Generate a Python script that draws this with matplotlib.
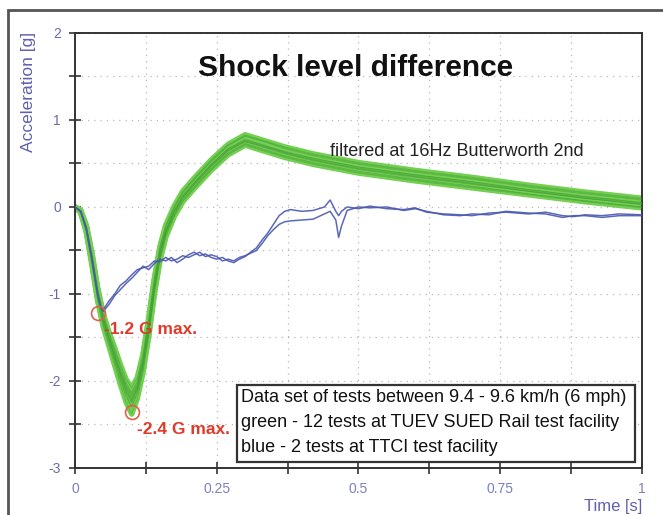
import numpy as np
import matplotlib
matplotlib.use("Agg")
import matplotlib.pyplot as plt
from matplotlib.patches import Rectangle

plt.rcParams['font.family'] = ['Liberation Sans', 'DejaVu Sans']
plt.rcParams['axes.unicode_minus'] = False

# green: 12 tests at TUEV SUED (time [s] / acceleration [g])
t_green = [0, 0.01, 0.02, 0.03, 0.04, 0.05, 0.06, 0.07, 0.08, 0.09, 0.10, 0.11,
           0.12, 0.13, 0.14, 0.15, 0.16, 0.175, 0.19, 0.21, 0.24, 0.27, 0.30,
           0.33, 0.37, 0.42, 0.50, 0.60, 0.70, 0.80, 0.90, 1.00]
g01 = [0, -0.05, -0.25, -0.60, -1.00, -1.30, -1.52, -1.72, -1.92, -2.10, -2.22, -2.08, -1.80, -1.40, -0.92, -0.54, -0.29, -0.06, 0.11, 0.26, 0.47, 0.65, 0.76, 0.70, 0.62, 0.54, 0.44, 0.35, 0.27, 0.18, 0.10, 0.03]
g02 = [0, -0.04, -0.22, -0.55, -0.95, -1.25, -1.46, -1.64, -1.84, -2.02, -2.13, -2.00, -1.71, -1.30, -0.84, -0.47, -0.23, 0.00, 0.17, 0.32, 0.53, 0.71, 0.81, 0.76, 0.68, 0.60, 0.50, 0.41, 0.33, 0.24, 0.16, 0.09]
g03 = [0, -0.06, -0.28, -0.65, -1.05, -1.35, -1.57, -1.78, -1.99, -2.18, -2.30, -2.14, -1.86, -1.46, -0.98, -0.59, -0.33, -0.10, 0.07, 0.22, 0.43, 0.61, 0.72, 0.66, 0.58, 0.50, 0.40, 0.31, 0.23, 0.15, 0.07, 0.00]
g04 = [0, -0.05, -0.24, -0.58, -0.98, -1.28, -1.49, -1.69, -1.89, -2.07, -2.19, -2.05, -1.76, -1.36, -0.88, -0.51, -0.27, -0.04, 0.13, 0.28, 0.49, 0.67, 0.77, 0.72, 0.63, 0.56, 0.46, 0.37, 0.29, 0.20, 0.12, 0.05]
g05 = [0, -0.05, -0.26, -0.62, -1.02, -1.32, -1.53, -1.74, -1.95, -2.13, -2.25, -2.10, -1.82, -1.42, -0.94, -0.55, -0.30, -0.07, 0.10, 0.25, 0.46, 0.64, 0.75, 0.69, 0.61, 0.53, 0.43, 0.34, 0.26, 0.18, 0.10, 0.03]
g06 = [0, -0.04, -0.21, -0.53, -0.93, -1.23, -1.44, -1.62, -1.81, -1.98, -2.08, -1.96, -1.69, -1.28, -0.82, -0.45, -0.21, 0.01, 0.18, 0.33, 0.54, 0.72, 0.83, 0.77, 0.69, 0.61, 0.51, 0.42, 0.34, 0.25, 0.17, 0.10]
g07 = [0, -0.06, -0.29, -0.67, -1.08, -1.38, -1.60, -1.82, -2.04, -2.24, -2.38, -2.20, -1.90, -1.49, -1.00, -0.61, -0.35, -0.11, 0.06, 0.21, 0.42, 0.60, 0.71, 0.65, 0.57, 0.49, 0.39, 0.30, 0.22, 0.14, 0.06, -0.01]
g08 = [0, -0.05, -0.25, -0.61, -1.01, -1.31, -1.51, -1.71, -1.91, -2.09, -2.21, -2.07, -1.79, -1.39, -0.91, -0.53, -0.28, -0.05, 0.12, 0.27, 0.48, 0.66, 0.78, 0.71, 0.63, 0.55, 0.45, 0.36, 0.28, 0.19, 0.11, 0.04]
g09 = [0, -0.04, -0.24, -0.59, -0.99, -1.29, -1.50, -1.70, -1.90, -2.06, -2.17, -2.04, -1.77, -1.37, -0.89, -0.52, -0.27, -0.04, 0.13, 0.28, 0.49, 0.67, 0.76, 0.71, 0.64, 0.56, 0.46, 0.37, 0.29, 0.20, 0.12, 0.05]
g10 = [0, -0.05, -0.26, -0.61, -1.01, -1.31, -1.52, -1.73, -1.94, -2.12, -2.24, -2.09, -1.81, -1.41, -0.93, -0.55, -0.29, -0.06, 0.11, 0.26, 0.47, 0.65, 0.75, 0.70, 0.62, 0.54, 0.44, 0.35, 0.27, 0.18, 0.10, 0.03]
g11 = [0, -0.05, -0.23, -0.57, -0.97, -1.27, -1.48, -1.67, -1.87, -2.04, -2.15, -2.02, -1.74, -1.33, -0.86, -0.48, -0.24, -0.01, 0.16, 0.31, 0.52, 0.70, 0.82, 0.76, 0.67, 0.59, 0.49, 0.40, 0.32, 0.23, 0.15, 0.08]
g12 = [0, -0.06, -0.27, -0.64, -1.05, -1.35, -1.56, -1.77, -1.98, -2.16, -2.29, -2.13, -1.85, -1.45, -0.97, -0.58, -0.32, -0.09, 0.08, 0.23, 0.44, 0.62, 0.73, 0.67, 0.59, 0.51, 0.41, 0.32, 0.24, 0.15, 0.07, 0.00]
green_tests = [g01, g02, g03, g04, g05, g06, g07, g08, g09, g10, g11, g12]

# blue: 2 tests at TTCI
t_blue = [0, 0.01, 0.02, 0.03, 0.04, 0.045, 0.05, 0.06, 0.07, 0.08,
          0.09, 0.10, 0.11, 0.12, 0.13, 0.14, 0.15, 0.16, 0.17, 0.18,
          0.19, 0.20, 0.21, 0.22, 0.23, 0.24, 0.25, 0.26, 0.27, 0.28,
          0.29, 0.30, 0.31, 0.32, 0.33, 0.34, 0.35, 0.36, 0.37, 0.38,
          0.40, 0.42, 0.44, 0.45, 0.46, 0.465, 0.47, 0.48,
          0.50, 0.52, 0.55, 0.58, 0.60, 0.62, 0.65, 0.68, 0.70,
          0.73, 0.76, 0.80, 0.83, 0.86, 0.88, 0.90, 0.93, 0.96, 1.00]
b1 = [0, -0.05, -0.25, -0.60, -1.00, -1.15, -1.20, -1.12, -1.02, -0.95,
      -0.88, -0.82, -0.75, -0.68, -0.72, -0.65, -0.60, -0.62, -0.58, -0.64,
      -0.60, -0.55, -0.52, -0.56, -0.54, -0.58, -0.60, -0.58, -0.62, -0.64,
      -0.60, -0.57, -0.52, -0.47, -0.38, -0.30, -0.20, -0.10, -0.05, -0.03,
      -0.05, -0.04, 0.00, 0.08, -0.05, -0.10, -0.05, 0.00,
      -0.02, 0.01, -0.02, -0.03, -0.01, -0.06, -0.08, -0.09, -0.10,
      -0.07, -0.06, -0.08, -0.06, -0.10, -0.11, -0.09, -0.10, -0.08, -0.09]
b2 = [0, -0.05, -0.25, -0.60, -1.00, -1.14, -1.18, -1.08, -1.00, -0.90,
      -0.85, -0.78, -0.72, -0.70, -0.68, -0.62, -0.63, -0.58, -0.62, -0.60,
      -0.56, -0.58, -0.55, -0.52, -0.57, -0.55, -0.57, -0.62, -0.60, -0.62,
      -0.58, -0.56, -0.53, -0.50, -0.42, -0.33, -0.26, -0.20, -0.17, -0.16,
      -0.15, -0.14, -0.08, -0.05, -0.15, -0.35, -0.22, -0.04,
      0.00, -0.01, 0.00, -0.04, -0.02, -0.05, -0.09, -0.10, -0.08,
      -0.09, -0.05, -0.07, -0.08, -0.12, -0.10, -0.10, -0.12, -0.10, -0.10]
blue_tests = [b1, b2]

peak_t = [0.041, 0.1005]
peak_g = [-1.22, -2.356]
peak_labels = ['-1.2 G max.', '-2.4 G max.']

info_lines = ['Data set of tests between 9.4 - 9.6 km/h (6 mph)',
              'green - 12 tests at TUEV SUED Rail test facility',
              'blue - 2 tests at TTCI test facility']

fig = plt.figure(figsize=(6.63, 5.15), dpi=100)
ax = fig.add_axes([0.1131, 0.0913, 0.8552, 0.8447])

# outer frame of the picture
fig.patches.append(Rectangle((8 / 663, -0.2), 1.2, 1.2 - 10 / 515, transform=fig.transFigure,
                             fill=False, edgecolor='#555555', lw=2))

for g in green_tests:
    ax.plot(t_green, g, color='#74d052', lw=4.0, solid_capstyle='round', zorder=2)
for g in green_tests:
    ax.plot(t_green, g, color='#45a036', lw=0.6, alpha=0.55, zorder=3)
for b in blue_tests:
    ax.plot(t_blue, b, color='#4a58b0', lw=1.1, alpha=0.9, zorder=4)

ax.plot(peak_t, peak_g, 'o', mfc='none', mec='#e0604a', ms=10, mew=1.2, zorder=5)
ax.text(peak_t[0] + 0.011, peak_g[0] - 0.19, peak_labels[0], color='#e03a2a',
        fontsize=12.5, fontweight='bold', va='center', ha='left', zorder=6)
ax.text(peak_t[1] + 0.009, peak_g[1] - 0.2, peak_labels[1], color='#e03a2a',
        fontsize=12.5, fontweight='bold', va='center', ha='left', zorder=6)

ax.text(0.494, 1.6, 'Shock level difference', fontsize=21.5, fontweight='bold',
        ha='center', va='center', color='#111111')
ax.text(0.674, 0.636, 'filtered at 16Hz Butterworth 2nd', fontsize=13,
        ha='center', va='center', color='#222222')

ax.add_patch(Rectangle((0.286, -2.93), 0.702, 0.884, facecolor='white',
                       edgecolor='#333333', lw=1.6, zorder=6))
for i, line in enumerate(info_lines):
    ax.text(0.293, -2.195 - 0.285 * i, line, fontsize=13, ha='left', va='center',
            color='#111111', zorder=7)

ax.set_xlim(0, 1)
ax.set_ylim(-3, 2)
ax.set_xticks([0, 0.25, 0.5, 0.75, 1])
ax.set_xticklabels(['0', '0.25', '0.5', '0.75', '1'])
ax.set_xticks(np.arange(0.125, 1, 0.25), minor=True)
ax.set_yticks([-3, -2, -1, 0, 1, 2])
ax.set_yticks(np.arange(-2.5, 2, 1.0), minor=True)
ax.grid(which='both', ls=(0, (1, 4)), color='#b8b8b8', lw=0.9)
ax.tick_params(which='both', direction='inout', length=8, width=1.1, color='#222222',
               labelcolor='#6a6ab0', labelsize=10)
ax.tick_params(axis='x', pad=6, labelcolor='#7a80c0')
ax.tick_params(axis='y', pad=6)
for s in ax.spines.values():
    s.set_color('#333333')
    s.set_linewidth(1.4)

fig.text(28 / 663, 1 - 32 / 515, 'Acceleration [g]', rotation=90, ha='center', va='top',
         fontsize=12.5, color='#6060b0')
fig.text(642 / 663, 1 - 506 / 515, 'Time [s]', ha='right', va='center',
         fontsize=12, color='#6060b0')

fig.savefig('out.png', dpi=100)
